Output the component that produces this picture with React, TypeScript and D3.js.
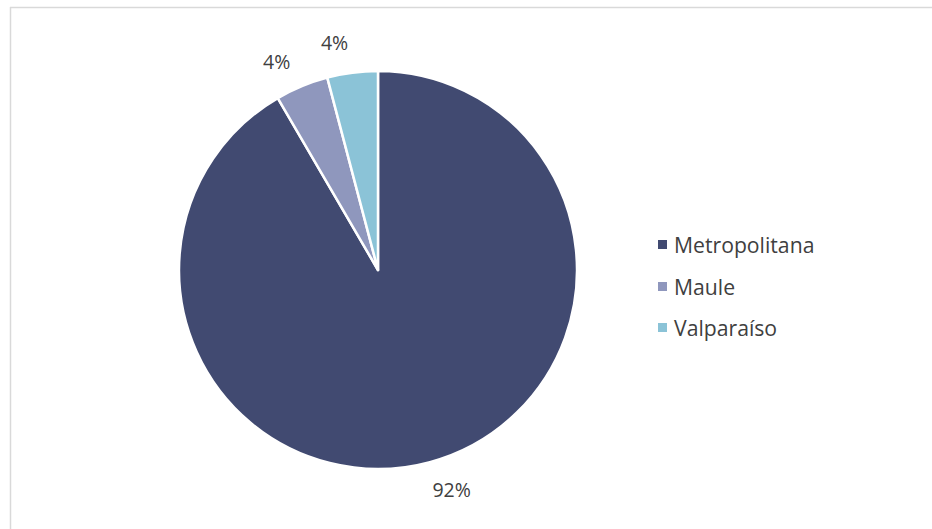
import React from "react";
import * as d3 from "d3";

const categories = ["Metropolitana", "Maule", "Valparaíso"];
const values = [91.6, 4.3, 4.1];
const labels = ["92%", "4%", "4%"];
const colors = ["#414a71", "#8f97bd", "#8bc3d7"];

export default function App() {
  const W = 932, H = 529;
  const cx = 378, cy = 270, r = 199;
  const pie = d3.pie<number>().sort(null).value((d) => d)(values);
  const arc = d3.arc<d3.PieArcDatum<number>>().innerRadius(0).outerRadius(r);
  const labelR = 232;
  const nudge = (-3.4 * Math.PI) / 180;
  const font = "'Open Sans', sans-serif";
  const legY = [244, 286, 327];
  return (
    <svg width={W} height={H} style={{ position: "absolute", left: 0, top: 0 }}>
      <rect x={0} y={0} width={W} height={H} fill="#fff" />
      <line x1={10.5} y1={7} x2={10.5} y2={H} stroke="#d9d9d9" strokeWidth={1.5} />
      <line x1={10} y1={7.5} x2={W} y2={7.5} stroke="#d9d9d9" strokeWidth={1.5} />
      <g transform={`translate(${cx},${cy})`}>
        {pie.map((p, i) => (
          <path key={i} d={arc(p) || ""} fill={colors[i]} stroke="#fff" strokeWidth={2.5} strokeLinejoin="round" />
        ))}
        {pie.map((p, i) => {
          const a = (p.startAngle + p.endAngle) / 2 + nudge;
          const x = Math.sin(a) * labelR;
          const y = -Math.cos(a) * labelR;
          return (
            <text key={i} x={x} y={y} textAnchor="middle" dominantBaseline="central" fontFamily={font} fontSize={19.5} fill="#404040">
              {labels[i]}
            </text>
          );
        })}
      </g>
      {categories.map((c, i) => (
        <g key={c}>
          <rect x={658} y={legY[i] - 4} width={9} height={9} fill={colors[i]} />
          <text x={674} y={legY[i]} dominantBaseline="central" fontFamily={font} fontSize={21.2} fill="#404040">
            {c}
          </text>
        </g>
      ))}
    </svg>
  );
}
